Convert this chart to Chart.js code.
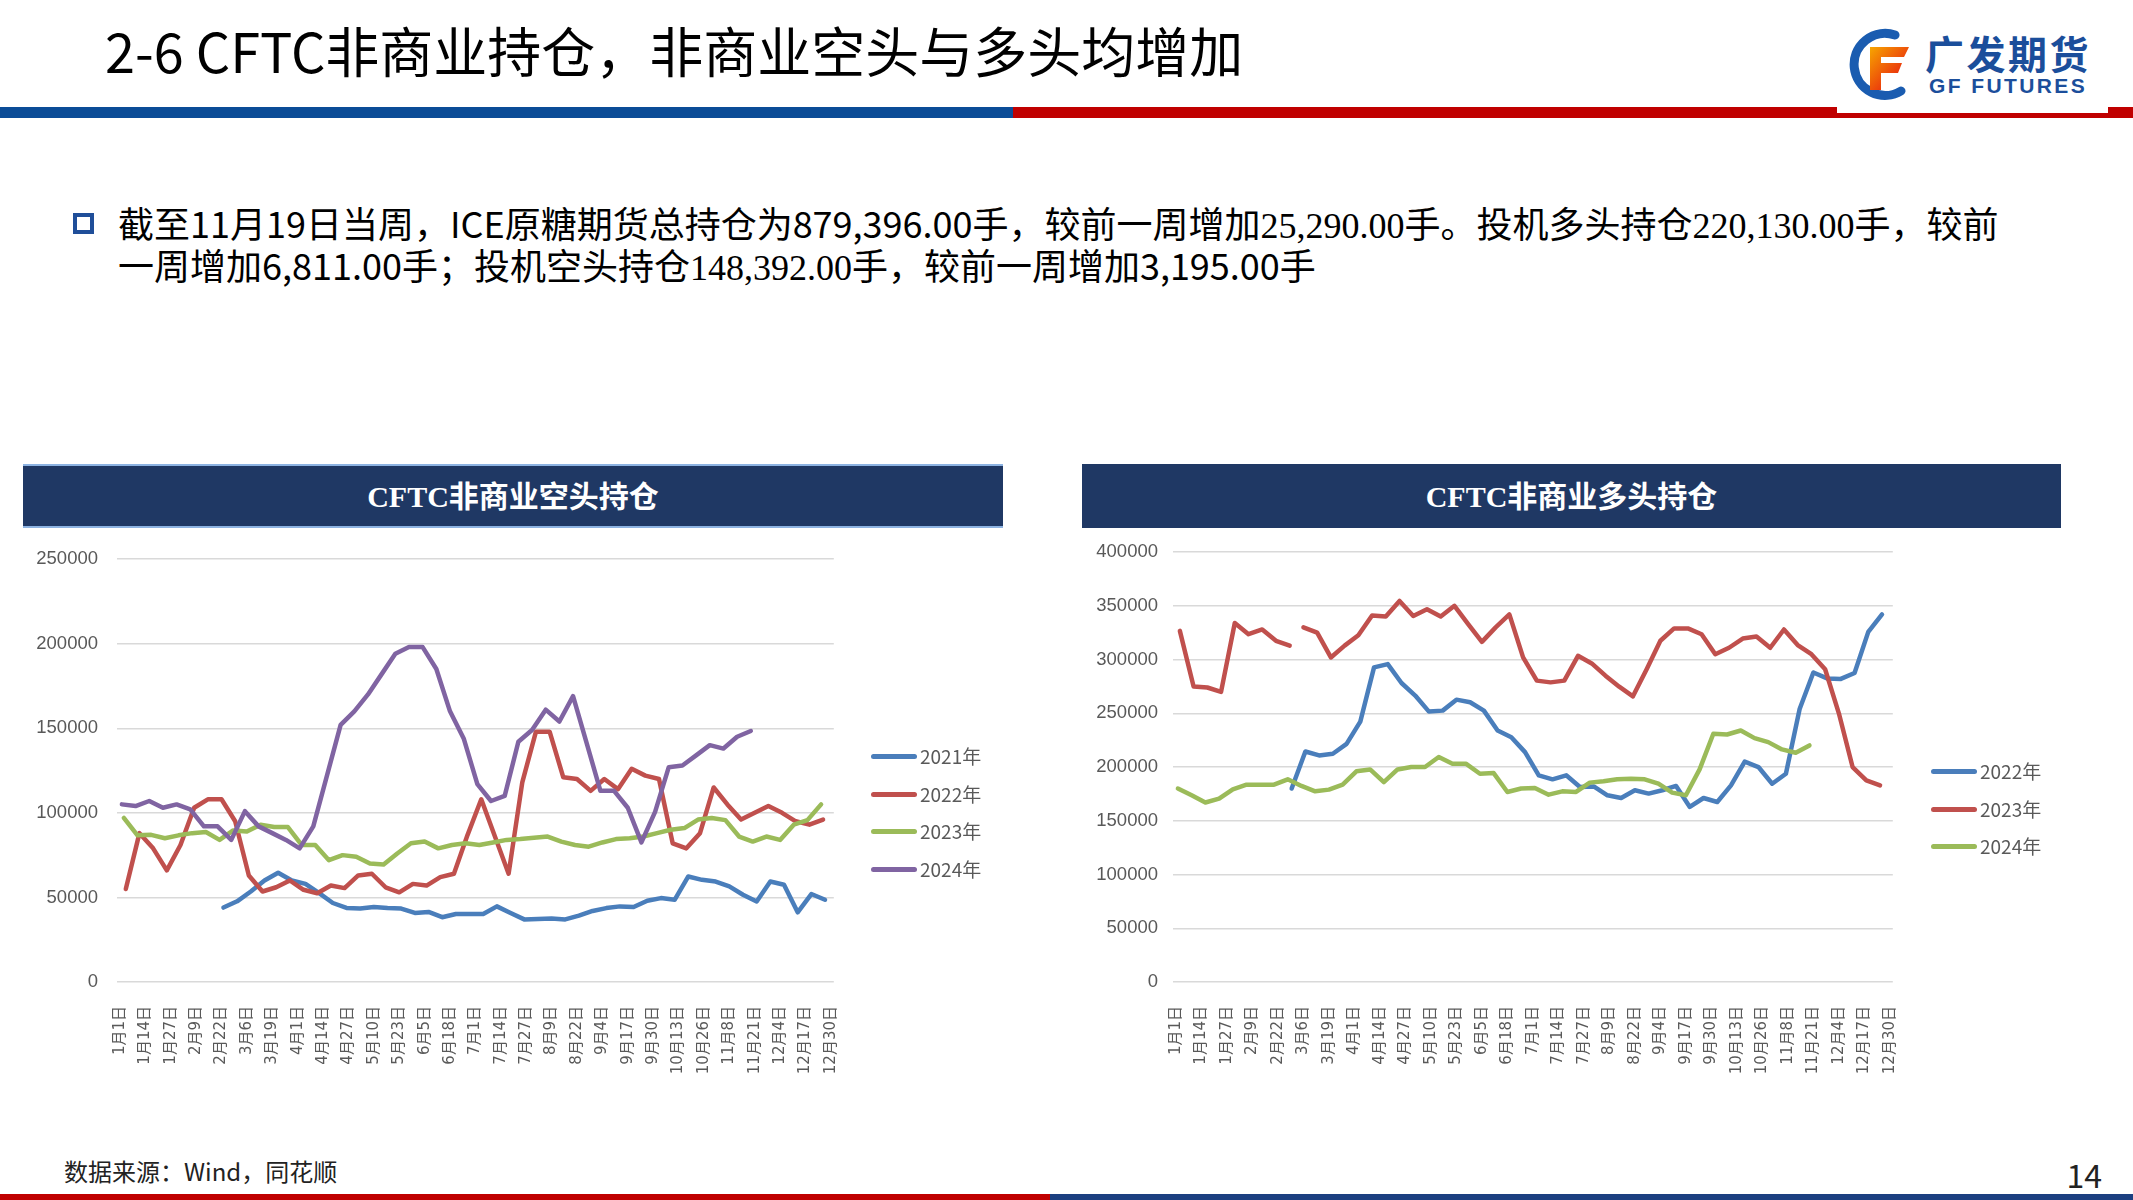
<!DOCTYPE html>
<html>
<head>
<meta charset="utf-8">
<script src="https://cdn.jsdelivr.net/npm/chart.js@4.4.1/dist/chart.umd.min.js"></script>
<style>
    html, body { margin: 0; padding: 0; background: #fff; }
    #page { position: relative; width: 2133px; height: 1200px; overflow: hidden; font-family: "Noto Sans CJK SC", "Noto Sans", sans-serif; color: #000; }
    .abs { position: absolute; }
    .title { left: 105px; top: 19px; font-size: 54px; line-height: 62px; white-space: nowrap; }
    .stripe { top: 107px; height: 11px; }
    .logo-box { left: 1837px; top: 0; width: 271px; height: 113px; background: #fff; }
    .logo-cn { left: 1925px; top: 30px; font-size: 39px; line-height: 44px; font-weight: 700; color: #1b4e9b; letter-spacing: 2.5px; white-space: nowrap; }
    .logo-en { left: 1929px; top: 74px; font-size: 21px; line-height: 24px; font-weight: 700; color: #1b4e9b; letter-spacing: 2.4px; font-family: "Liberation Sans", sans-serif; white-space: nowrap; }
    .bullet { left: 73px; top: 213px; width: 13px; height: 13px; border: 4px solid #1f4e99; }
    .lead { left: 118px; font-size: 36px; line-height: 42px; white-space: nowrap; }
    .serif { font-family: "Liberation Serif", "Times New Roman", serif; line-height: 1; }
    .bar { top: 464px; height: 64px; background: #1f3864; color: #fff; font-weight: 700; font-size: 30px; line-height: 60px; text-align: center; box-sizing: border-box; }
    .bar.left { left: 23px; width: 980px; border-top: 2px solid #8db3e2; border-bottom: 2px solid #8db3e2; line-height: 56px; }
    .bar.right { left: 1082px; width: 979px; }
    .legend-item { position: absolute; height: 24px; font-size: 19px; line-height: 24px; color: #595959; white-space: nowrap; }
    .legend-item i { position: absolute; left: 0; top: 10px; width: 46px; height: 5px; border-radius: 3px; }
    .legend-item span { position: absolute; left: 49px; top: 0; }
    .source { left: 64px; top: 1155px; font-size: 24px; line-height: 32px; color: #222; white-space: nowrap; }
    .pageno { left: 2040px; width: 62px; text-align: right; top: 1154px; font-size: 32px; line-height: 40px; color: #222; }
    canvas { position: absolute; }
</style>
</head>
<body>
<div id="page">
    <div class="abs title">2-6 CFTC非商业持仓，非商业空头与多头均增加</div>
    <div class="abs stripe" style="left:0;width:1013px;background:#0b4c97"></div>
    <div class="abs stripe" style="left:1013px;width:1120px;background:#c00000"></div>
    <div class="abs logo-box"></div>
    <svg class="abs" style="left:1843px;top:28px" width="80" height="72" viewBox="0 0 80 72">
        <defs>
            <linearGradient id="fg" x1="0" y1="0" x2="1" y2="1">
                <stop offset="0" stop-color="#f7a600"/>
                <stop offset="1" stop-color="#e50012"/>
            </linearGradient>
        </defs>
        <path d="M52 7 A31 31 0 1 0 58 63" fill="none" stroke="#1a5cb0" stroke-width="9" stroke-linecap="round"/>
        <path d="M27 19 H66 L61 29 H38 V35 H59 L55 45 H38 V62 H27 Z" fill="url(#fg)"/>
    </svg>
    <div class="abs logo-cn">广发期货</div>
    <div class="abs logo-en">GF FUTURES</div>

    <div class="abs bullet"></div>
    <div class="abs lead" style="top:201px">截至11月19日当周，ICE原糖期货总持仓为879,396.00手，较前一周增加<span class="serif">25,290.00</span>手。投机多头持仓<span class="serif">220,130.00</span>手，较前</div>
    <div class="abs lead" style="top:243px">一周增加6,811.00手；投机空头持仓<span class="serif">148,392.00</span>手，较前一周增加3,195.00手</div>

    <div class="abs bar left"><span class="serif">CFTC</span>非商业空头持仓</div>
    <div class="abs bar right"><span class="serif">CFTC</span>非商业多头持仓</div>

    <canvas id="shortChart" width="850" height="571" style="left:23px;top:529px"></canvas>
    <canvas id="longChart" width="850" height="574" style="left:1082px;top:526px"></canvas>
    <div id="shortLegend"></div>
    <div id="longLegend"></div>

    <div class="abs source">数据来源：Wind，同花顺</div>
    <div class="abs pageno">14</div>
    <div class="abs" style="left:0;top:1194px;width:1050px;height:6px;background:#c00000"></div>
    <div class="abs" style="left:1050px;top:1194px;width:1083px;height:6px;background:#1c3f80"></div>
</div>

<script>
// x axis: day of year, one label every 13 days
const tickLabels = ['1月1日', '1月14日', '1月27日', '2月9日', '2月22日', '3月6日', '3月19日', '4月1日',
    '4月14日', '4月27日', '5月10日', '5月23日', '6月5日', '6月18日', '7月1日', '7月14日', '7月27日',
    '8月9日', '8月22日', '9月4日', '9月17日', '9月30日', '10月13日', '10月26日', '11月8日', '11月21日',
    '12月4日', '12月17日', '12月30日'];
const tickStepDays = 13;

// weekly reports: day of year of each year's first Tuesday
const firstReportDay = { 2021: 4, 2022: 3, 2023: 2, 2024: 1 };

// 非商业空头持仓
const shortYears = [2021, 2022, 2023, 2024];
const short2021 = [null, null, null, null, null, null, null,
    44000, 47700, 53500, 60000, 64600, 60000, 58000, 52500, 46700, 43800, 43400, 44400, 43800, 43400,
    40800, 41400, 38300, 40200, 40200, 40200, 44700, 40800, 37000, 37300, 37500, 37000, 39200, 42000,
    43700, 44700, 44300, 48000, 49600, 48600, 62400, 60400, 59400, 56500, 51600, 47600, 59400, 57500,
    41200, 52000, 48600];
const short2022 = [55000, 88000, 79000, 66000, 81000, 103000, 108000, 108000, 95000, 63000,
    53500, 56000, 60000, 54500, 52500, 57000, 55500, 63000, 64000, 56000,
    53000, 58000, 57000, 62000, 64000, 87000, 108000, 86000, 64000, 118000,
    148000, 148000, 121000, 120000, 113000, 120000, 114000, 126000, 122000, 120000,
    82000, 79000, 88000, 115000, 105000, 96000, 100000, 104000, 100000, 95000,
    93000, 96000];
const short2023 = [97000, 86700, 87000, 85000, 86700, 88000, 88700, 84000, 89600, 89000,
    93000, 91600, 91600, 81000, 81000, 72000, 75000, 74000, 70000, 69500,
    76000, 82000, 83000, 79000, 81000, 82000, 81000, 82500, 84000, 84500,
    85300, 86000, 83000, 81000, 80000, 82500, 84500, 85000, 86000, 88000,
    90000, 91000, 96000, 97000, 95700, 86000, 83000, 86000, 84000, 93000,
    95700, 105000];
const short2024 = [105000, 104000, 107000, 103000, 105000, 102000, 92000, 92000, 84000, 101000,
    92000, 88000, 84000, 79000, 92000, 122000, 152000, 160000, 170000, 182000,
    194000, 198000, 198000, 185000, 160000, 144000, 117000, 107000, 110000, 142000,
    149000, 161000, 154000, 169000, 141000, 113000, 113000, 103000, 82500, 100600,
    127000, 128000, 134000, 140000, 138000, 145000, 148392];

// 非商业多头持仓
const longYears = [2022, 2023, 2024];
const long2022 = [null, null, null, null, null, null, null, null,
    180000, 214500, 210800, 212400, 221600, 242300, 292700, 295800, 278200, 266500,
    251600, 252500, 262700, 260300, 252500, 234000, 227800, 213900, 192300, 188600,
    192300, 181500, 182000, 173700, 171200, 178400, 175300, 178400, 182400, 162900,
    171200, 167500, 183000, 205000, 200000, 184500, 193800, 254000, 288000, 282500,
    282000, 287500, 325800, 342000];
const long2023 = [326700, 275000, 274000, 270000, 334000, 323600, 328000, 317500, 313000,
    330000, 325000, 302000, 313000, 322700, 341000, 340000, 354500, 340600, 346800,
    340000, 350000, 333000, 316500, 330000, 342000, 302000, 280400, 278800, 280400,
    303500, 296400, 285000, 274800, 265800, 291000, 317500, 329000, 329000, 323600,
    305000, 311000, 319600, 321500, 311000, 328000, 313500, 305000, 291000, 250000,
    200000, 187600, 183000];
const long2023MissingAfter = 8; // no line between 2月28日 and 3月7日 reports
const long2024 = [180000, 173700, 167000, 170600, 179300, 183600, 183600, 183600, 188600, 182400,
    177400, 179000, 183600, 196000, 197800, 186000, 197800, 200000, 200000, 209300,
    203000, 203000, 193800, 194400, 176800, 180000, 180500, 174300, 177400, 176800,
    185500, 186700, 188600, 189200, 188600, 184500, 176200, 173700, 197800, 231000,
    230300, 234000, 226900, 223200, 216400, 213300, 220130];

const yearColors = { 2021: '#4a7ebb', 2022: '#c0504d', 2023: '#9bbb59', 2024: '#8064a2' };
const longColors = { 2022: '#4a7ebb', 2023: '#c0504d', 2024: '#9bbb59' };

const TEXT = '#595959';

function weekly(year, values) {
    return values.map((v, i) => ({ x: firstReportDay[year] + 7 * i, y: v }));
}

function dataset(year, values, color, order, extra) {
    return Object.assign({
        label: year + '年',
        data: weekly(year, values),
        borderColor: color,
        backgroundColor: color,
        borderWidth: 4.5,
        borderJoinStyle: 'round',
        borderCapStyle: 'round',
        pointRadius: 0,
        tension: 0,
        spanGaps: false,
        order,
    }, extra || {});
}

function options(yMax, yAxisWidth, yPad, rightPad) {
    return {
        responsive: false,
        animation: false,
        devicePixelRatio: 1,
        layout: { padding: { top: 7, right: rightPad, left: 0, bottom: 0 } },
        plugins: { legend: { display: false }, tooltip: { enabled: false } },
        scales: {
            x: {
                type: 'linear',
                bounds: 'data',
                min: -1.5,
                max: 365.5,
                afterBuildTicks: axis => { axis.ticks = tickLabels.map((_, i) => ({ value: i * tickStepDays })); },
                afterFit: axis => { axis.height = 118; },
                grid: { display: false, drawTicks: false },
                border: { display: false },
                ticks: {
                    autoSkip: false,
                    minRotation: 90,
                    maxRotation: 90,
                    padding: 24,
                    color: TEXT,
                    font: { family: '"DejaVu Sans", "Noto Sans CJK SC", sans-serif', size: 15 },
                    callback: (v, i) => tickLabels[i],
                },
            },
            y: {
                min: 0,
                max: yMax,
                afterFit: axis => { axis.width = yAxisWidth; },
                grid: { color: '#d9d9d9', lineWidth: 1.5, drawTicks: false },
                border: { display: false },
                ticks: {
                    stepSize: 50000,
                    padding: yPad,
                    color: TEXT,
                    font: { family: '"Liberation Sans Narrow", "Liberation Sans", sans-serif', size: 18.5 },
                    callback: v => String(v),
                },
            },
        },
    };
}

function htmlLegend(id, items, left, top, gap) {
    const box = document.getElementById(id);
    box.innerHTML = items.map((it, i) => `
        <div class="legend-item" style="left:${left}px;top:${top + i * gap}px">
            <i style="background:${it.color}"></i><span>${it.label}</span>
        </div>`).join('');
}

const shortSets = [short2021, short2022, short2023, short2024];
new Chart(document.getElementById('shortChart'), {
    type: 'line',
    data: {
        datasets: shortYears.map((y, i) => dataset(y, shortSets[i], yearColors[y], shortYears.length - i)),
    },
    options: options(250000, 94, 19, 31),
});

const longSets = [long2022, long2023, long2024];
new Chart(document.getElementById('longChart'), {
    type: 'line',
    data: {
        datasets: longYears.map((y, i) => dataset(y, longSets[i], longColors[y], longYears.length - i,
            y === 2023 ? { segment: { borderColor: ctx => ctx.p0DataIndex === long2023MissingAfter ? 'rgba(0,0,0,0)' : undefined } } : null)),
    },
    options: options(400000, 91, 15, 35),
});

htmlLegend('shortLegend', shortYears.map(y => ({ label: y + '年', color: yearColors[y] })), 871, 744, 37.7);
htmlLegend('longLegend', longYears.map(y => ({ label: y + '年', color: longColors[y] })), 1931, 759, 37.5);
</script>
</body>
</html>
